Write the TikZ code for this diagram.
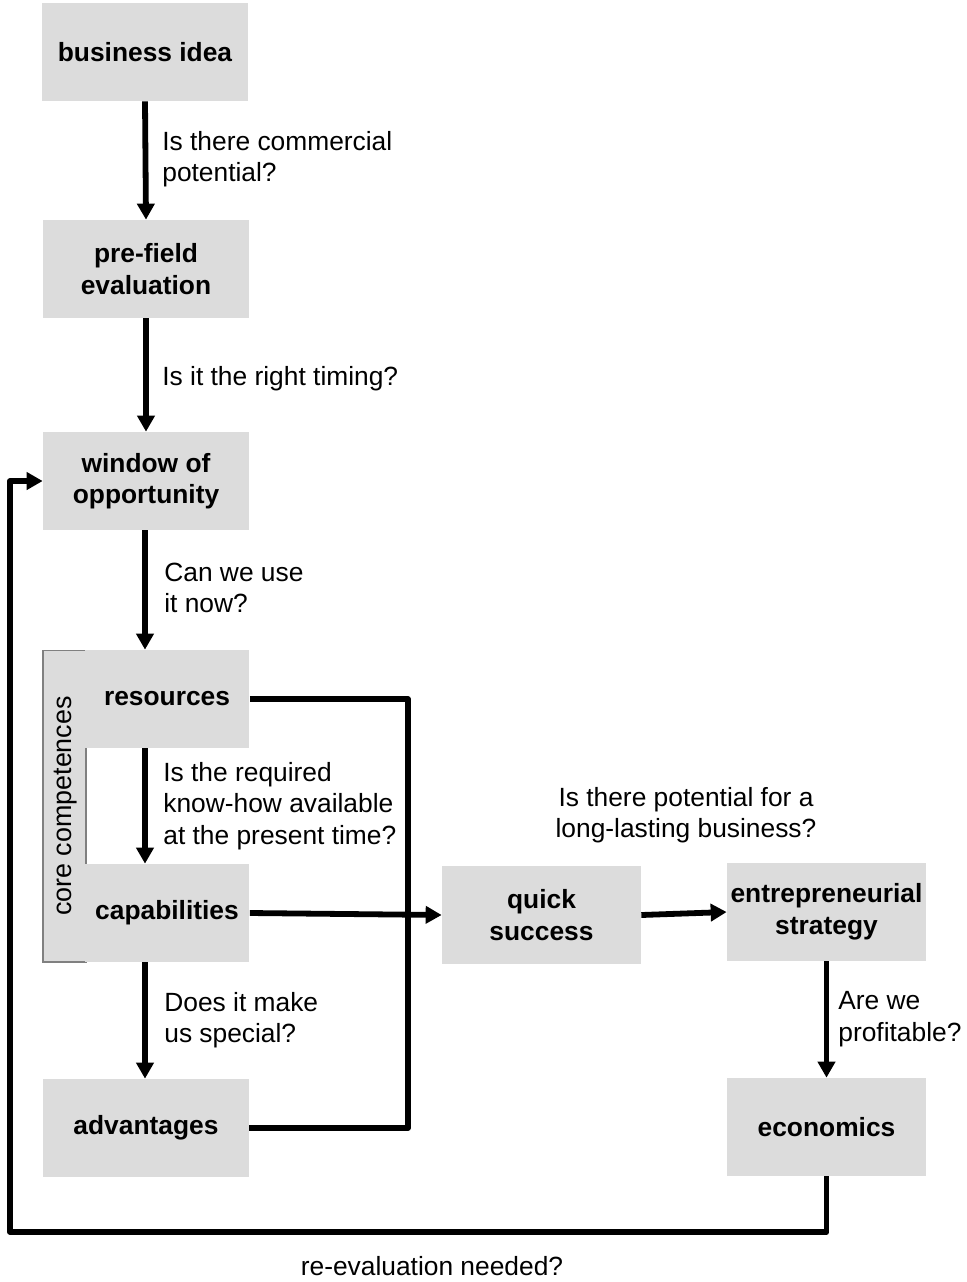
\documentclass[tikz,border=0pt]{standalone}
\usepackage{fontspec}
\setmainfont{Liberation Sans}
\usepackage{xcolor}
\usepackage{tikz}
\usetikzlibrary{arrows.meta, positioning, calc}
\definecolor{boxgray}{HTML}{DCDCDC}
\definecolor{edgegray}{HTML}{808080}

\begin{document}
\begin{tikzpicture}[x=0.02cm, y=-0.02cm,
    stage/.style={fill=boxgray, font=\fontsize{15}{18}\selectfont\bfseries, align=center,
      minimum width=4.12cm, minimum height=1.96cm, inner sep=0pt},
    comp/.style={stage, minimum width=3.3cm},
    side/.style={stage, minimum width=3.98cm},
    ask/.style={font=\fontsize{15}{18}\selectfont, align=left, anchor=west, inner sep=0pt},
    flow/.style={line width=3.3pt, line join=round},
    arr/.style={flow, -{Triangle[length=0.32cm, width=0.34cm]}}]
  \useasboundingbox (0,0) rectangle (967,1282);
  % Main column of stages
  \node[stage] (idea) at (145,52) {business idea};
  \node[stage] (pre) at (146,269) {pre-field\\evaluation};
  \node[stage] (win) at (146,481) {window of\\opportunity};
  % Core competences bracket
  \node[fill=boxgray, draw=edgegray, line width=0.6pt, minimum width=0.86cm, minimum height=6.24cm,
    inner sep=0pt] (core) at (64.5,806) {};
  \node[font=\fontsize{15.3}{18}\selectfont, rotate=90, inner sep=0pt] (corelbl) at (66,806) {core competences};
  \node[comp] (res) at (167,699) {resources};
  \node[comp] (cap) at (167,913) {capabilities};
  \node[stage] (adv) at (146,1128) {advantages};
  % Right-hand stages
  \node[side] (quick) at (541.5,915) {quick\\success};
  \node[side] (strat) at (826.5,912) {entrepreneurial\\strategy};
  \node[side] (eco) at (826.5,1127) {economics};
  % Questions along the arrows
  \node[ask] (q1) at (162,159) {Is there commercial\\potential?};
  \node[ask] (q2) at (162,379) {Is it the right timing?};
  \node[ask] (q3) at (164,588) {Can we use\\it now?};
  \node[ask] (q4) at (163,806) {Is the required\\know-how available\\at the present time?};
  \node[ask] (q5) at (164,1020) {Does it make\\us special?};
  \node[ask] (q6) at (838,1019) {Are we\\profitable?};
  \node[font=\fontsize{15}{18}\selectfont, align=center, inner sep=0pt] (q7) at (686,815)
    {Is there potential for a\\long-lasting business?};
  \node[font=\fontsize{15}{18}\selectfont, inner sep=0pt] (q8) at (432,1266) {re-evaluation needed?};
  % Turning points
  \coordinate (junc) at (408,699);
  \coordinate (loopR) at (826.5,1232);
  \coordinate (loopL) at (10,1232);
  % Connectors
  \foreach \a/\b in {idea/pre, pre/win, strat/eco} {
    \draw[arr] (\a.south) -- (\b.north);
  }
  \draw[arr] (win.south -| idea.south) -- (res.north -| idea.south);
  \draw[arr] (res.south -| idea.south) -- (cap.north -| idea.south);
  \draw[arr] (cap.south -| idea.south) -- (adv.north -| idea.south);
  \draw[flow] (res.east) -- (junc) |- (adv.east);
  \draw[arr] (cap.east) -- (quick.west);
  \draw[arr] (quick.east) -- (strat.west);
  \draw[arr] (eco.south) -- (loopR) -- (loopL) |- (win.west);
\end{tikzpicture}
\end{document}
